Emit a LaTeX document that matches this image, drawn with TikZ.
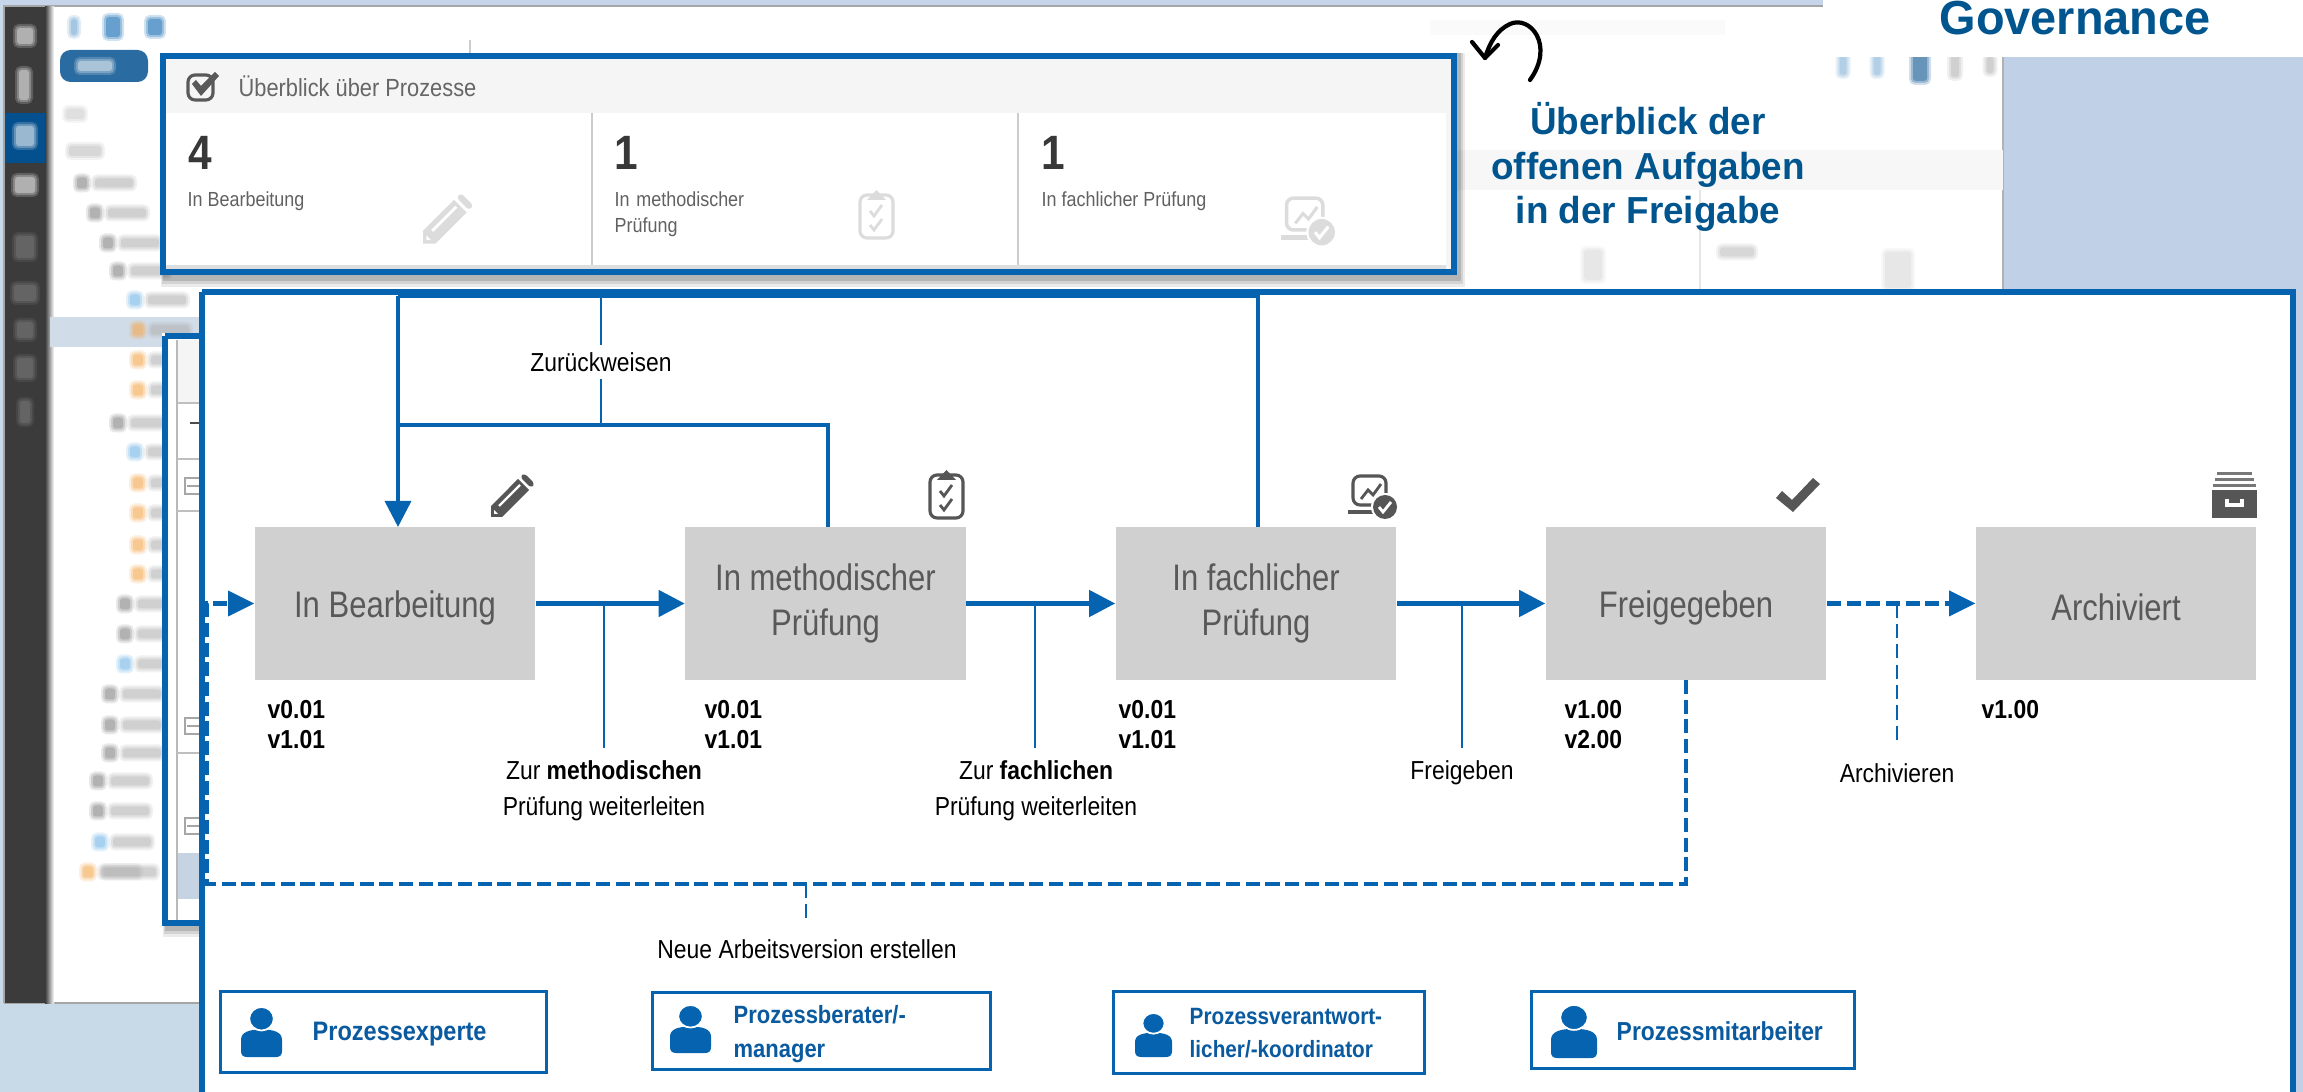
\documentclass[tikz,border=0pt]{standalone}
\usepackage{fontspec}
\setmainfont{Liberation Sans}
\newfontfamily\nar[FakeStretch=0.88]{Liberation Sans}
\newfontfamily\narr[FakeStretch=0.84]{Liberation Sans}
\newfontfamily\arl[FakeStretch=0.98]{Liberation Sans}
\definecolor{flowblue}{HTML}{0563B0}
\definecolor{headblue}{HTML}{00558F}
\definecolor{rolecol}{HTML}{0A5AA0}
\definecolor{boxgray}{HTML}{D0D0D0}
\definecolor{boxtext}{HTML}{595959}
\definecolor{icondark}{HTML}{565656}
\definecolor{iconpale}{HTML}{DCDCDC}
\definecolor{bgleft}{HTML}{C8DAE8}
\definecolor{bgright}{HTML}{C0D0E6}
\definecolor{rowblue}{HTML}{C5D3E3}
\definecolor{orangeblob}{HTML}{F5A64A}
\definecolor{blueblob}{HTML}{6FB4E8}
\definecolor{grayblob}{HTML}{808080}
\usetikzlibrary{arrows.meta}
\newcommand\fsz[1]{\fontsize{#1}{#1}\selectfont}
\newcommand\blob[5]{%
  \fill[#5,opacity=.18,rounded corners=1.6pt] ({#1-#3/2-5},{#2-#4/2-5}) rectangle ({#1+#3/2+5},{#2+#4/2+5});
  \fill[#5,opacity=.25,rounded corners=1.2pt] ({#1-#3/2-3},{#2-#4/2-3}) rectangle ({#1+#3/2+3},{#2+#4/2+3});
  \fill[#5,opacity=.35,rounded corners=.8pt] ({#1-#3/2-1},{#2-#4/2-1}) rectangle ({#1+#3/2+1},{#2+#4/2+1});
}
\newcommand\softshadow[4]{%
  \fill[black,opacity=.08] ({#1+1},{#2}) rectangle ({#3+8},{#4+12});
  \fill[black,opacity=.10] ({#1+2},{#2}) rectangle ({#3+6},{#4+9});
  \fill[black,opacity=.14] ({#1+3},{#2}) rectangle ({#3+4},{#4+6});
}
\newcommand\pencilicon[4]{%
  \begin{scope}[shift={(#1,#2)},scale=#3]
    \fill[#4] (0,33) -- (27,6) -- (38,17) -- (11,44) -- (0,44) -- cycle;
    \fill[#4,rounded corners=1pt] (29,4) -- (33,0) -- (44,11) -- (40,15) -- cycle;
    \draw[white,line width=#3*.7pt] (8,33) -- (29,12);
    \fill[white] (3,37) -- (7,41) -- (3,41) -- cycle;
  \end{scope}
}
\newcommand\clipicon[4]{%
  \begin{scope}[shift={(#1,#2)},scale=#3]
    \draw[#4,line width=#3*.9pt,rounded corners=2pt] (2,5) rectangle (35,48);
    \fill[#4] (18.5,0) -- (9,10) -- (28,10) -- cycle;
    \draw[#4,line width=#3*.8pt] (12,21) -- (16,26) -- (24,15);
    \draw[#4,line width=#3*.8pt] (12,35) -- (16,40) -- (24,29);
  \end{scope}
}
\newcommand\laptopicon[4]{%
  \begin{scope}[shift={(#1,#2)},scale=#3]
    \draw[#4,line width=#3*.9pt,rounded corners=2pt] (5,1) -- (5,30) -- (38,30) -- (38,1) -- cycle;
    \draw[#4,line width=#3*1.4pt] (0,37) -- (32,37);
    \draw[#4,line width=#3*.8pt] (13,24) -- (20,15) -- (25,20) -- (33,9);
    \fill[white] (37,32) circle (14);
    \fill[#4] (37,32) circle (12);
    \draw[white,line width=#3*.8pt] (31,32) -- (35,37) -- (43,27);
  \end{scope}
}
\newcommand\checkicon[3]{%
  \fill[#3] (#1,{#2+20}) -- ({#1+6},{#2+13}) -- ({#1+16},{#2+22}) -- ({#1+37},{#2}) -- ({#1+44},{#2+6}) -- ({#1+17},{#2+34}) -- cycle;
}
\newcommand\archiveicon[3]{%
  \begin{scope}[shift={(#1,#2)}]
    \fill[#3!80] (5,0) rectangle (40,3);
    \fill[#3!80] (3,6) rectangle (42,9);
    \fill[#3!80] (1,12) rectangle (44,15);
    \fill[#3] (0,18) rectangle (45,46);
    \draw[white,line width=.9pt] (15,27) -- (15,33) -- (30,33) -- (30,27);
  \end{scope}
}
\newcommand\personicon[4]{%
  \begin{scope}[shift={(#1,#2)}]
    \fill[flowblue] (0,{#4-6}) -- (0,{#4*.66}) .. controls (0,{#4*.5}) and ({#3*.2},{#4*.45}) .. ({#3*.5},{#4*.45}) .. controls ({#3*.8},{#4*.45}) and (#3,{#4*.5}) .. (#3,{#4*.66}) -- (#3,{#4-6}) .. controls (#3,{#4-2}) and ({#3-2},#4) .. ({#3-6},#4) -- (6,#4) .. controls (2,#4) and (0,{#4-2}) .. (0,{#4-6}) -- cycle;
    \fill[flowblue,draw=white,line width=.5pt] ({#3*.5},{#4*.235}) ellipse ({#3*.3} and {#4*.235});
  \end{scope}
}
\tikzset{
  x=0.01cm,y=-0.01cm,
  pbox/.style={fill=boxgray,text=boxtext,minimum width=2.8cm,minimum height=1.53cm,inner sep=0pt,align=center,font=\narr\fsz{10.5},execute at begin node=\rule{0pt}{10pt}},
  rolebox/.style={draw=flowblue,line width=.85pt,fill=white,inner sep=0pt},
  rolelabel/.style={text=rolecol,font=\nar\bfseries\fsz{7.1},inner sep=0pt,align=left,anchor=west},
  flowlab/.style={text=black,font=\nar\fsz{7.4},inner sep=0pt,align=center},
  verlab/.style={text=black,font=\nar\bfseries\fsz{7.4},inner sep=0pt,align=left,anchor=north west},
  annot/.style={text=headblue,font=\arl\bfseries\fsz{10.7},inner sep=0pt,align=center},
  panel/.style={draw=flowblue,line width=1.7pt},
  thick flow/.style={draw=flowblue,line width=1.3pt},
  thin flow/.style={draw=flowblue,line width=.8pt},
  thick dash/.style={draw=flowblue,line width=1.2pt,dash pattern=on 4pt off 1.6pt},
  thin dash/.style={draw=flowblue,line width=.8pt,dash pattern=on 4pt off 1.8pt},
  tip/.style={-{Triangle[length=2.6mm,width=2.6mm]}},
  numlab/.style={text=black!78,font=\nar\bfseries\fsz{13.7},inner sep=0pt,anchor=west},
  ovlab/.style={text=black!62,font=\nar\fsz{5.8},inner sep=0pt,align=left,anchor=north west},
}
\begin{document}
\begin{tikzpicture}
\path[use as bounding box] (0,0) rectangle (2303,1092);
\clip (0,0) rectangle (2303,1092);
% background
\fill[bgleft] (0,0) rectangle (2303,1092);
\fill[bgright] (2003,0) rectangle (2303,1092);
\fill[bgright!90!white] (0,0) rectangle (2003,5);
% window
\fill[white] (4,6) rectangle (2003,1003);
\draw[gray!70,line width=.5pt] (4,1003) -- (4,6) -- (2003,6);
\draw[gray!70,line width=.5pt] (4,1003) -- (200,1003);
\draw[gray!60,line width=.4pt] (2003,57) -- (2003,290);
\fill[black!77] (5,7) rectangle (45,1003);
\shade[left color=black!77,right color=white] (45,7) rectangle (54,1003);
\fill[flowblue!80!black] (5,113) rectangle (45,163);
% sidebar icons
\blob{25}{36}{14}{14}{white}
\blob{24}{85}{8}{28}{white}
\blob{25}{136}{16}{18}{white}
\blob{25}{185}{18}{14}{white}
\blob{25}{247}{16}{20}{gray}
\blob{25}{293}{20}{14}{gray}
\blob{25}{330}{14}{14}{gray}
\blob{25}{368}{14}{18}{gray}
\blob{25}{412}{8}{20}{gray}
% top-of-window blurred icons
\blob{74}{27}{4}{14}{flowblue!60}
\blob{113}{27}{12}{18}{flowblue}
\blob{155}{27}{12}{14}{flowblue}
\fill[flowblue!70!gray,rounded corners=3pt] (60,50) rectangle (148,82);
\blob{95}{66}{32}{8}{white}
\blob{75}{114}{16}{8}{gray!40}
\blob{85}{151}{30}{8}{gray!50}
% highlighted row
\fill[rowblue!80!white] (50,317) rectangle (200,347);
% blurred tree
\foreach \yy/\xx/\cc in {183/82/grayblob,213/95/grayblob,243/108/grayblob,271/118/grayblob,423/118/grayblob,604/125/grayblob,634/125/grayblob,694/110/grayblob,725/110/grayblob,753/110/grayblob,781/98/grayblob,811/98/grayblob,300/135/blueblob,330/138/orangeblob,360/138/orangeblob,390/138/orangeblob,452/135/blueblob,483/138/orangeblob,513/138/orangeblob,545/138/orangeblob,574/138/orangeblob,664/125/blueblob,842/100/blueblob,872/88/orangeblob}
  {\blob{\xx}{\yy}{8}{9}{\cc}
   \blob{\xx+32}{\yy}{36}{7}{gray!60}}
\blob{130}{872}{50}{7}{gray!60}
% blurred content at the right
\fill[black!3] (1457,150) rectangle (2003,190);
\fill[black!2] (1430,20) rectangle (1725,35);
\draw[gray!40,line width=.4pt] (470,40) -- (470,53);
\blob{1843}{65}{5}{18}{flowblue!50}
\blob{1877}{65}{5}{18}{flowblue!50}
\blob{1920}{68}{12}{24}{flowblue!80!black}
\blob{1955}{65}{6}{22}{gray!60}
\blob{1990}{65}{5}{14}{gray!60}
\blob{1593}{265}{16}{28}{gray!30}
\blob{1737}{252}{32}{7}{gray!50}
\blob{1898}{270}{24}{34}{gray!30}
\draw[gray!20,line width=.4pt] (1700,190) -- (1700,290);
% back panel
\softshadow{162}{333}{400}{925}
\fill[white] (162,333) rectangle (400,925);
\fill[black!4] (177,340) rectangle (220,403);
\fill[rowblue] (177,853) rectangle (220,899);
\draw[gray!55,line width=.4pt] (177,340) -- (177,920);
\foreach \yy in {403,459,511,753} {\draw[gray!50,line width=.4pt] (177,\yy) -- (220,\yy);}
\foreach \yy in {486,726,826} {\draw[gray!70,line width=.5pt] (185,{\yy-8}) rectangle (205,{\yy+8}); \draw[gray!70,line width=.5pt] (187,\yy) -- (203,\yy);}
\draw[black!70,line width=.4pt] (190,423) -- (200,423);
\draw[panel] (165,336) -- (240,336);
\draw[panel] (165,336) -- (165,923) -- (240,923);
% top panel
\softshadow{160}{53}{1457}{275}
\fill[white] (163,56) rectangle (1454,272);
\fill[black!4] (165,59) rectangle (1452,113);
\fill[black!4] (1446,113) rectangle (1452,270);
\fill[black!13] (165,265) rectangle (1446,269);
\draw[gray!40,line width=.4pt] (592,113) -- (592,265);
\draw[gray!40,line width=.4pt] (1018,113) -- (1018,265);
\draw[panel] (163,56) rectangle (1454,272);
\draw[black!65,line width=.9pt,rounded corners=2pt] (188,75) rectangle (213,100);
\fill[black!65] (192,84) -- (196,80) -- (201,86) -- (215,72) -- (219,76) -- (201,96) -- cycle;
\node[text=black!60,font=\nar\fsz{7.05},inner sep=0pt,anchor=west] (ovtitle) at (238,86) {Überblick über Prozesse};
\node[numlab] (n1) at (188,153) {4};
\node[numlab] (n2) at (614,153) {1};
\node[numlab] (n3) at (1041,153) {1};
\node[ovlab] (o1) at (187,191) {In Bearbeitung};
\node[ovlab,text width=4cm] (o2) at (614,191) {In methodischer\\[1.7pt]Prüfung};
\node[ovlab] (o3) at (1041,191) {In fachlicher Prüfung};
\pencilicon{423}{193}{1.15}{iconpale}
\clipicon{858}{190}{1}{iconpale}
\laptopicon{1281}{197}{1.1}{iconpale}
% Governance
\fill[white] (1823,0) rectangle (2303,57);
\node[text=headblue,font=\arl\bfseries\fsz{13.6},inner sep=0pt] (gov) at (2075,18) {Governance};
\coordinate (ar1) at (1530,80);
\coordinate (ar2) at (1485,58);
\draw[black,line width=1.2pt,line cap=round] (ar1) .. controls (1555,45) and (1530,15) .. (1510,24) .. controls (1497,30) and (1490,42) .. (ar2);
\draw[black,line width=1.2pt,line cap=round,line join=round] (1472,42) -- (ar2) -- (1498,45);
\node[annot] (ann) at (1648,167) {Überblick der\\[2pt]offenen Aufgaben\\[2pt]in der Freigabe};
% main panel
\fill[white] (202,292) rectangle (2293,1100);
\draw[panel] (202,292) -- (2293,292) -- (2293,1100);
\draw[panel] (202,292) -- (202,1100);
% process boxes
\node[pbox] (b1) at (395,603.5) {In Bearbeitung};
\node[pbox] (b2) at (825.5,603.5) {In methodischer\\[2.2pt]Prüfung};
\node[pbox] (b3) at (1256,603.5) {In fachlicher\\[2.2pt]Prüfung};
\node[pbox] (b4) at (1686,603.5) {Freigegeben};
\node[pbox] (b5) at (2116,603.5) {Archiviert};
% icons above
\pencilicon{491}{473}{1}{icondark}
\clipicon{928}{470}{1}{icondark}
\laptopicon{1348}{475}{1}{icondark}
\checkicon{1776}{478}{icondark}
\archiveicon{2212}{472}{icondark}
% coordinates
\coordinate (rtl) at (398,296);
\coordinate (rtr) at (1258,296);
\coordinate (rml) at (398,425);
\coordinate (rmr) at (828,425);
\coordinate (rbl) at (398,527);
\coordinate (rb2) at (828,527);
\coordinate (rb3) at (1258,527);
\coordinate (zt) at (601,296);
\coordinate (zm) at (601,425);
\coordinate (zb1) at (604,603.5);
\coordinate (ze1) at (604,748);
\coordinate (zb2) at (1035,603.5);
\coordinate (ze2) at (1035,748);
\coordinate (zb3) at (1462,603.5);
\coordinate (ze3) at (1462,748);
\coordinate (zb4) at (1897,603.5);
\coordinate (ze4) at (1897,742);
\coordinate (dfb) at (1686,680);
\coordinate (dbr) at (1686,884);
\coordinate (dbl) at (207,884);
\coordinate (dtl) at (207,603.5);
\coordinate (dbm) at (806,884);
\coordinate (dbe) at (806,922);
% flow arrows
\draw[thick flow,tip] (b1.east) -- (b2.west);
\draw[thick flow,tip] (b2.east) -- (b3.west);
\draw[thick flow,tip] (b3.east) -- (b4.west);
\draw[thick dash] (b4.east) -- ([xshift=-.26cm]b5.west);
\fill[flowblue] (b5.west) -- ++(-26,-13) -- ++(0,26) -- cycle;
\draw[thin flow] (zb1) -- (ze1);
\draw[thin flow] (zb2) -- (ze2);
\draw[thin flow] (zb3) -- (ze3);
\draw[thin dash] (zb4) -- (ze4);
% reject
\node[flowlab] (zur) at (601,362) {Zurückweisen};
\draw[thick flow,line width=1pt,tip] (rtl) -- (rbl);
\draw[thick flow,line width=1pt] (rtl) -- (rtr) -- (rb3);
\draw[thick flow,line width=1pt] (rml) -- (rmr) -- (rb2);
\draw[thin flow] (zt) -- ([yshift=.07cm]zur.north);
\draw[thin flow] ([yshift=-.07cm]zur.south) -- (zm);
% new version
\draw[thick dash] (dfb) -- (dbr) -- (dbl) -- (dtl) -- ([xshift=-.26cm]b1.west);
\fill[flowblue] (b1.west) -- ++(-26,-13) -- ++(0,26) -- cycle;
\draw[thin dash] (dbm) -- (dbe);
% labels
\node[flowlab] (l1) at (604,791) {Zur \textbf{methodischen}\\[2.8pt]Prüfung weiterleiten};
\node[flowlab] (l2) at (1036,791) {Zur \textbf{fachlichen}\\[2.8pt]Prüfung weiterleiten};
\node[flowlab] (l3) at (1462,773) {Freigeben};
\node[flowlab] (l4) at (1897,773) {Archivieren};
\node[flowlab] (l5) at (807,949) {Neue Arbeitsversion erstellen};
\node[verlab] (v1) at (267,700) {v0.01\\[1.1pt]v1.01};
\node[verlab] (v2) at (704,700) {v0.01\\[1.1pt]v1.01};
\node[verlab] (v3) at (1118,700) {v0.01\\[1.1pt]v1.01};
\node[verlab] (v4) at (1564,700) {v1.00\\[1.1pt]v2.00};
\node[verlab] (v5) at (1981,700) {v1.00};
% roles
\node[rolebox,minimum width=3.25cm,minimum height=.8cm] (r1) at (383.5,1032) {};
\node[rolebox,minimum width=3.37cm,minimum height=.76cm] (r2) at (821.5,1031) {};
\node[rolebox,minimum width=3.1cm,minimum height=.81cm] (r3) at (1269,1032.5) {};
\node[rolebox,minimum width=3.22cm,minimum height=.76cm] (r4) at (1693,1030) {};
\personicon{241}{1007}{41}{50}
\personicon{670}{1005}{41}{48}
\personicon{1135}{1013}{37}{44}
\personicon{1551}{1005}{46}{53}
\node[rolelabel,font=\nar\bfseries\fsz{7.6}] (t1) at (312,1034) {Prozessexperte};
\node[rolelabel] (t2) at (733,1034) {Prozessberater/-\\[2.5pt]manager};
\node[rolelabel,font=\nar\bfseries\fsz{6.7}] (t3) at (1189,1033) {Prozessverantwort-\\[2.6pt]licher/-koordinator};
\node[rolelabel,font=\nar\bfseries\fsz{7.4}] (t4) at (1616,1031) {Prozessmitarbeiter};
\end{tikzpicture}
\end{document}
